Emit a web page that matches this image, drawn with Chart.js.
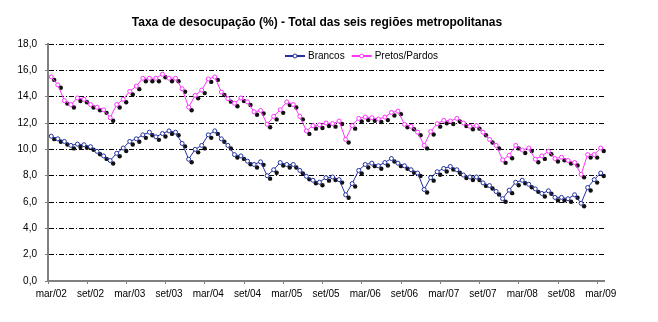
<!DOCTYPE html>
<html>
<head>
<meta charset="utf-8">
<script src="https://cdn.jsdelivr.net/npm/chart.js@4.4.1/dist/chart.umd.min.js"></script>
<style>
  html, body { margin: 0; padding: 0; background: #fff; }
</style>
</head>
<body>
<canvas id="grafico" width="658" height="322"></canvas>
<script>
// meses de mar/02 a mar/09
const meses = ['jan','fev','mar','abr','mai','jun','jul','ago','set','out','nov','dez'];
const categorias = [];
for (let a = 2; a <= 9; a++) {
  for (let m = 0; m < 12; m++) {
    if ((a === 2 && m < 2) || (a === 9 && m > 2)) continue;
    categorias.push(meses[m] + '/0' + a);
  }
}

const brancos = [
  11.0, 10.8, 10.6, 10.3, 10.4, 10.35, 10.2, 9.85, 9.5, 9.15, 9.7, 10.1,
  10.6, 10.8, 11.1, 11.3, 10.95, 11.2, 11.4, 11.3, 10.45, 9.25, 10.0, 10.3,
  11.1, 11.4, 10.8, 10.3, 9.6, 9.5, 9.1, 8.85, 9.05, 8.0, 8.45, 9.0,
  8.85, 8.85, 8.4, 7.95, 7.65, 7.5, 7.85, 7.9, 7.7, 6.55, 7.4, 8.4,
  8.85, 8.95, 8.75, 9.0, 9.3, 8.95, 8.75, 8.45, 8.2, 6.95, 7.85, 8.3,
  8.55, 8.7, 8.45, 8.05, 7.9, 7.9, 7.45, 7.25, 6.8, 6.25, 6.9, 7.5,
  7.65, 7.35, 7.0, 6.65, 6.85, 6.35, 6.35, 6.25, 6.55, 5.9, 7.1, 7.7,
  8.2
];

const pretosPardos = [
  15.5, 14.9, 13.7, 13.4, 13.9, 13.8, 13.4, 13.2, 13.0, 12.4, 13.4, 13.8,
  14.4, 14.8, 15.4, 15.4, 15.4, 15.7, 15.4, 15.4, 14.6, 13.2, 14.1, 14.5,
  15.35, 15.5, 14.35, 13.85, 13.5, 13.9, 13.6, 12.85, 12.95, 11.9, 12.5, 13.0,
  13.6, 13.4, 12.5, 11.4, 11.8, 11.85, 12.0, 11.95, 12.15, 10.75, 11.8, 12.35,
  12.45, 12.4, 12.3, 12.45, 12.8, 12.9, 11.9, 11.75, 11.3, 10.3, 11.35, 11.95,
  12.2, 12.15, 12.35, 12.0, 11.75, 11.8, 11.3, 10.75, 10.3, 9.2, 9.55, 10.3,
  9.95, 10.1, 9.25, 9.5, 9.85, 9.3, 9.4, 9.15, 9.0, 8.1, 9.6, 9.6,
  10.1
];

const ticksY = [0, 2, 4, 6, 8, 10, 12, 14, 16, 18];

const azul = '#23309e';
const rosa = '#ff33ff';

Chart.defaults.font.family = 'Arial, "Liberation Sans", sans-serif';
Chart.defaults.color = '#000';

// sombra preta dos marcadores, deslocada
const sombra = {
  id: 'sombra',
  beforeDatasetDraw(chart, args) {
    if (chart.data.datasets[args.index].sombra) {
      chart.ctx.save();
      chart.ctx.translate(3, 3);
    }
  },
  afterDatasetDraw(chart, args) {
    if (chart.data.datasets[args.index].sombra) chart.ctx.restore();
  }
};

const textos = {
  id: 'textos',
  afterDraw(chart) {
    const ctx = chart.ctx;
    ctx.save();
    ctx.fillStyle = '#000';
    ctx.font = 'bold 12px Arial, "Liberation Sans", sans-serif';
    ctx.textAlign = 'center';
    ctx.textBaseline = 'alphabetic';
    ctx.fillText('Taxa de desocupação (%) - Total das seis regiões metropolitanas', 317, 26);

    // legenda
    ctx.font = '10px Arial, "Liberation Sans", sans-serif';
    ctx.textAlign = 'left';
    ctx.textBaseline = 'middle';
    let x = 285;
    const y = 56;
    chart.data.datasets.filter(d => !d.sombra).forEach(d => {
      ctx.strokeStyle = d.borderColor;
      ctx.lineWidth = 2;
      ctx.beginPath();
      ctx.moveTo(x, y);
      ctx.lineTo(x + 20, y);
      ctx.stroke();
      ctx.beginPath();
      ctx.arc(x + 10, y, 2, 0, Math.PI * 2);
      ctx.fillStyle = '#fff';
      ctx.fill();
      ctx.lineWidth = 1;
      ctx.stroke();
      ctx.fillStyle = '#000';
      ctx.fillText(d.label, x + 23, y);
      x += 23 + ctx.measureText(d.label).width + 7;
    });
    ctx.restore();
  }
};

new Chart(document.getElementById('grafico'), {
  type: 'line',
  data: {
    labels: categorias,
    datasets: [
      {
        label: 'Brancos',
        data: brancos,
        borderColor: azul,
        borderWidth: 1,
        pointRadius: 2,
        pointBorderWidth: 1,
        pointBorderColor: azul,
        pointBackgroundColor: '#fff',
        tension: 0
      },
      {
        label: 'Pretos/Pardos',
        data: pretosPardos,
        borderColor: rosa,
        borderWidth: 1,
        pointRadius: 2,
        pointBorderWidth: 1,
        pointBorderColor: rosa,
        pointBackgroundColor: '#fff',
        tension: 0
      },
      {
        label: 'sombra1',
        sombra: true,
        data: brancos,
        showLine: false,
        pointRadius: 2.2,
        pointBorderWidth: 0,
        pointBackgroundColor: '#111'
      },
      {
        label: 'sombra2',
        sombra: true,
        data: pretosPardos,
        showLine: false,
        pointRadius: 2.2,
        pointBorderWidth: 0,
        pointBackgroundColor: '#111'
      }
    ]
  },
  options: {
    responsive: false,
    animation: false,
    events: [],
    layout: { padding: { top: 44, right: 54, left: 0, bottom: 0 } },
    plugins: {
      legend: { display: false },
      tooltip: { enabled: false },
      title: { display: false }
    },
    scales: {
      x: {
        type: 'category',
        offset: true,
        grid: {
          offset: true,
          drawOnChartArea: false,
          drawTicks: true,
          tickLength: 3,
          color: c => (c.index % 6 === 0 ? '#808080' : 'rgba(0,0,0,0)')
        },
        border: { color: '#808080', width: 2 },
        ticks: {
          autoSkip: false,
          maxRotation: 0,
          minRotation: 0,
          padding: 4,
          font: { size: 10 },
          callback: function (v, i) { return i % 6 === 0 ? this.getLabelForValue(v) : ''; }
        },
        afterFit: s => { s.height = 41; }
      },
      y: {
        min: 0,
        max: 18,
        afterBuildTicks: s => { s.ticks = ticksY.map(v => ({ value: v })); },
        grid: {
          tickLength: 3,
          tickColor: '#808080',
          color: c => (c.tick && c.tick.value === 0 ? 'rgba(0,0,0,0)' : '#000')
        },
        border: { color: '#808080', width: 2, dash: [5, 2, 1, 2] },
        ticks: {
          padding: 8,
          font: { size: 10 },
          callback: v => v.toFixed(1).replace('.', ',')
        },
        afterFit: s => { s.width = 48; }
      }
    }
  },
  plugins: [sombra, textos]
});
</script>
</body>
</html>
